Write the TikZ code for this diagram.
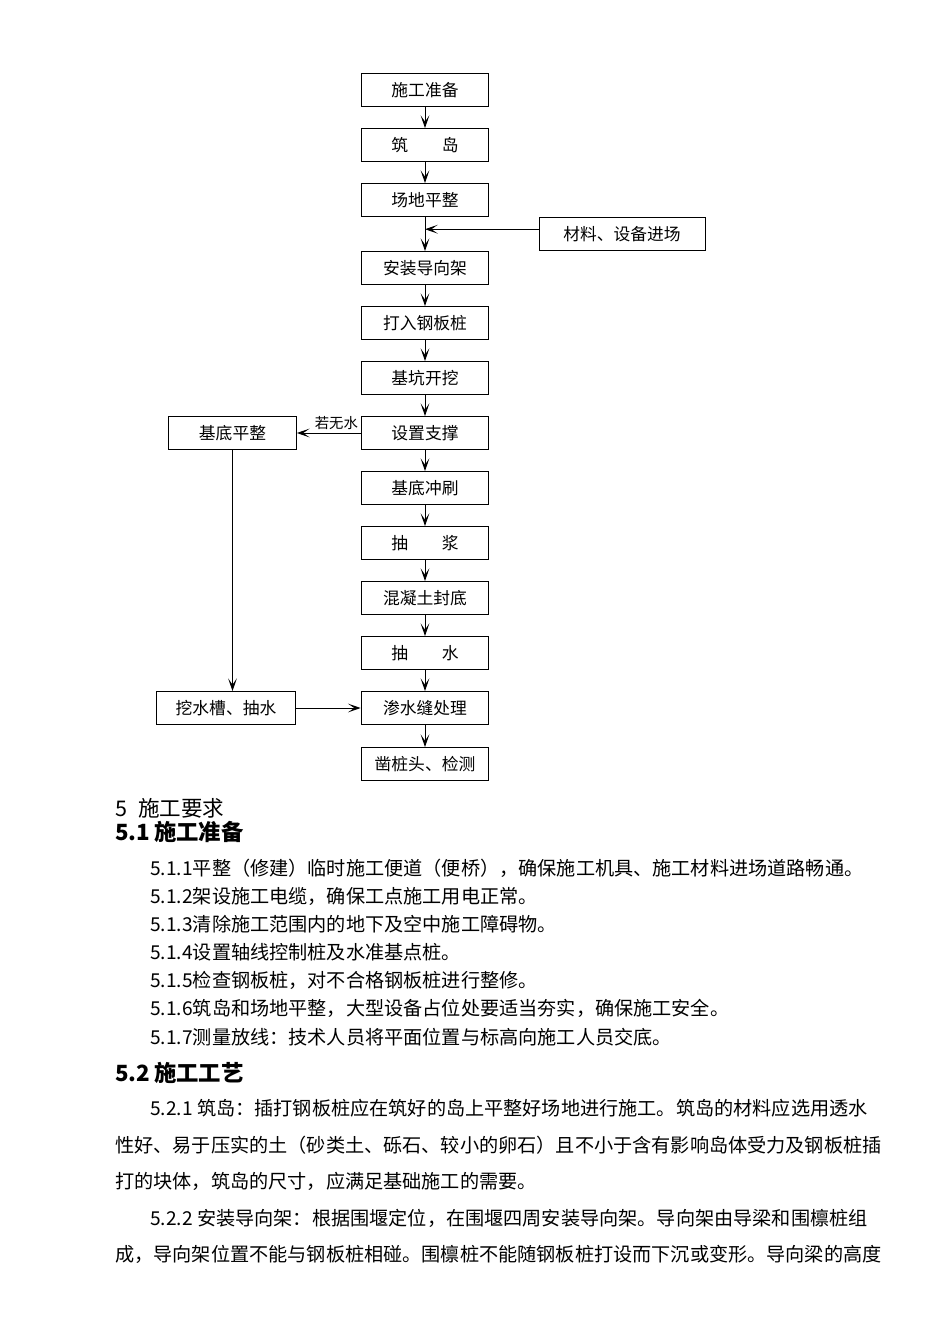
\documentclass[tikz,border=0pt]{standalone}
\usepackage{fontspec}
\setmainfont{Noto Sans CJK SC}
\usetikzlibrary{arrows.meta}

\tikzset{
  flowbox/.style={draw, line width=0.6pt, minimum width=80pt, minimum height=20.6pt,
    inner sep=1pt, font=\fontsize{10.5}{12}\selectfont},
  flowarrow/.style={line width=0.6pt, -{Stealth[length=8pt,width=5.5pt,inset=4pt]}},
  bodytext/.style={anchor=west, inner sep=0pt, font=\fontsize{12}{14}\selectfont},
  headtext/.style={anchor=west, inner sep=0pt, font=\fontsize{13.5}{15}\selectfont},
}

\begin{document}
\begin{tikzpicture}[x=0.6264pt,y=-0.6264pt]
    \useasboundingbox (0,0) rectangle (950,1344);

    % main column
    \node[flowbox] (zb)  at (425,90)  {施工准备};
    \node[flowbox] (zd)  at (425,145) {筑\hspace{2em}岛};
    \node[flowbox] (cd)  at (425,200) {场地平整};
    \node[flowbox] (az)  at (425,268) {安装导向架};
    \node[flowbox] (dr)  at (425,323) {打入钢板桩};
    \node[flowbox] (jk)  at (425,378) {基坑开挖};
    \node[flowbox] (sz)  at (425,433) {设置支撑};
    \node[flowbox] (cs)  at (425,488) {基底冲刷};
    \node[flowbox] (cj)  at (425,543) {抽\hspace{2em}浆};
    \node[flowbox] (fd)  at (425,598) {混凝土封底};
    \node[flowbox] (cw)  at (425,653) {抽\hspace{2em}水};
    \node[flowbox] (sl)  at (425,708) {渗水缝处理};
    \node[flowbox] (zt)  at (425,764) {凿桩头、检测};

    % side boxes
    \node[flowbox, minimum width=104pt] (cl)  at (622,234) {材料、设备进场};
    \node[flowbox] (jd)  at (232.5,433) {基底平整};
    \node[flowbox, minimum width=86.5pt] (wsc) at (226,708) {挖水槽、抽水};

    \draw[flowarrow] (zb) -- (zd);
    \draw[flowarrow] (zd) -- (cd);
    \draw[flowarrow] (cd) -- (az);
    \draw[flowarrow] (az) -- (dr);
    \draw[flowarrow] (dr) -- (jk);
    \draw[flowarrow] (jk) -- (sz);
    \draw[flowarrow] (sz) -- (cs);
    \draw[flowarrow] (cs) -- (cj);
    \draw[flowarrow] (cj) -- (fd);
    \draw[flowarrow] (fd) -- (cw);
    \draw[flowarrow] (cw) -- (sl);
    \draw[flowarrow] (sl) -- (zt);

    \coordinate (clin) at ([yshift=3pt]cl.west);
    \draw[flowarrow] (clin) -- (clin -| cd.south);
    \draw[flowarrow] (sz) -- node[above, pos=0.38, inner sep=1.5pt,
      font=\fontsize{9}{10}\selectfont] (rws) {若无水} (jd);
    \draw[flowarrow] (jd.south) -- (jd.south |- wsc.north);
    \draw[flowarrow] (wsc) -- (sl);

    % text below
    \node[headtext] (h5)  at (115,808) {5\hspace{0.5em}施工要求};
    \node[headtext, font=\fontsize{14}{16}\selectfont\bfseries] (h51) at (115,832) {5.1\,施工准备};
    \node[bodytext] (t511) at (150,868)  {5.1.1平整（修建）临时施工便道（便桥），确保施工机具、施工材料进场道路畅通。};
    \node[bodytext] (t512) at (150,896)  {5.1.2架设施工电缆，确保工点施工用电正常。};
    \node[bodytext] (t513) at (150,924)  {5.1.3清除施工范围内的地下及空中施工障碍物。};
    \node[bodytext] (t514) at (150,952)  {5.1.4设置轴线控制桩及水准基点桩。};
    \node[bodytext] (t515) at (150,980)  {5.1.5检查钢板桩，对不合格钢板桩进行整修。};
    \node[bodytext] (t516) at (150,1008) {5.1.6筑岛和场地平整，大型设备占位处要适当夯实，确保施工安全。};
    \node[bodytext] (t517) at (150,1037) {5.1.7测量放线：技术人员将平面位置与标高向施工人员交底。};
    \node[headtext, font=\fontsize{14}{16}\selectfont\bfseries] (h52) at (115,1073) {5.2\,施工工艺};
    \node[bodytext] (t521a) at (150,1108) {5.2.1 筑岛：插打钢板桩应在筑好的岛上平整好场地进行施工。筑岛的材料应选用透水};
    \node[bodytext] (t521b) at (115,1145) {性好、易于压实的土（砂类土、砾石、较小的卵石）且不小于含有影响岛体受力及钢板桩插};
    \node[bodytext] (t521c) at (115,1181) {打的块体，筑岛的尺寸，应满足基础施工的需要。};
    \node[bodytext] (t522a) at (150,1218) {5.2.2 安装导向架：根据围堰定位，在围堰四周安装导向架。导向架由导梁和围檩桩组};
    \node[bodytext] (t522b) at (115,1254) {成，导向架位置不能与钢板桩相碰。围檩桩不能随钢板桩打设而下沉或变形。导向梁的高度};
\end{tikzpicture}
\end{document}
